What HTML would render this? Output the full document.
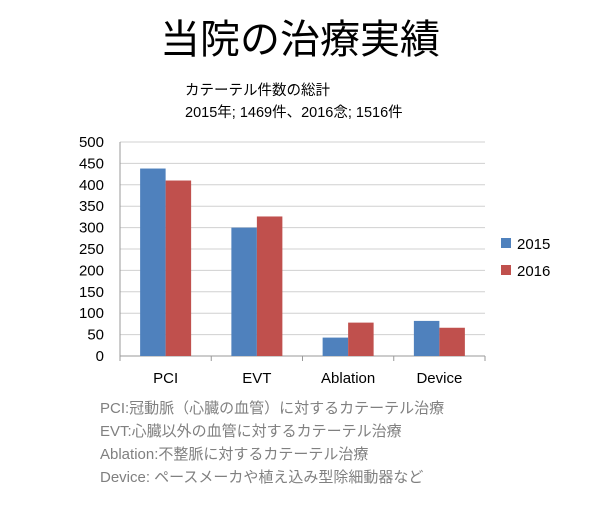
<!DOCTYPE html>
<html><head><meta charset="utf-8"><style>
body{margin:0;background:#fff;width:600px;height:500px;overflow:hidden;font-family:"Liberation Sans","Noto Sans CJK JP",sans-serif}
</style></head><body>
<svg width="600" height="500" font-family="Liberation Sans, Noto Sans CJK JP, sans-serif">
<text x="300" y="53" text-anchor="middle" font-size="40" fill="#000">当院の治療実績</text>
<text x="185" y="95" font-size="14.5" fill="#000">カテーテル件数の総計</text>
<text x="185" y="117" font-size="14.5" fill="#000">2015年; 1469件、2016念; 1516件</text>
<g id="grid"></g><g id="bars"></g><g id="axes"></g>
<rect x="501" y="238" width="10" height="10" fill="#4f81bd"/>
<text x="517" y="249" font-size="15">2015</text>
<rect x="501" y="265" width="10" height="10" fill="#c0504d"/>
<text x="517" y="276" font-size="15">2016</text>
<g font-size="15" fill="#808080">
<text x="100" y="413">PCI:冠動脈（心臓の血管）に対するカテーテル治療</text>
<text x="100" y="436">EVT:心臓以外の血管に対するカテーテル治療</text>
<text x="100" y="459">Ablation:不整脈に対するカテーテル治療</text>
<text x="100" y="482">Device: ペースメーカや植え込み型除細動器など</text>
</g>
</svg>
<script>
const categories=["PCI","EVT","Ablation","Device"];
const series2015=[438,300,43,82];
const series2016=[410,326,78,66];
const yTicks=[0,50,100,150,200,250,300,350,400,450,500];
const NS="http://www.w3.org/2000/svg";
const x0=120,x1=485,y0=356,yTop=142,yMax=500;
const y=v=>y0-(v/yMax)*(y0-yTop);
const bw=(x1-x0)/categories.length;
function mk(t,a,p){const e=document.createElementNS(NS,t);for(const k in a)e.setAttribute(k,a[k]);p.appendChild(e);return e;}
const grid=document.getElementById('grid'),bars=document.getElementById('bars'),axes=document.getElementById('axes');
yTicks.forEach(v=>{
 const l=mk('line',{x1:x0,x2:x1,y1:y(v),y2:y(v),stroke:v===0?'#999':'#d0d0d0','stroke-width':1},grid);
 
 
 const t=mk('text',{x:104,y:y(v)+5,'text-anchor':'end','font-size':15},axes);
 t.textContent=v;
 
 
});
mk('line',{x1:x0,x2:x0,y1:yTop,y2:y0+5,stroke:'#999'},axes);
categories.forEach((c,i)=>{
 const cx=x0+bw*(i+0.5),w=25.5;
 const b1=mk('rect',{x:cx-w,y:y(series2015[i]),width:w,height:y0-y(series2015[i]),fill:'#4f81bd'},bars);
 
 
 const b2=mk('rect',{x:cx,y:y(series2016[i]),width:w,height:y0-y(series2016[i]),fill:'#c0504d'},bars);
 
 
 const tk=mk('line',{x1:x0+bw*(i+1),x2:x0+bw*(i+1),y1:y0,y2:y0+5,stroke:'#999'},axes);
 
 
 const t=mk('text',{x:cx,y:383,'text-anchor':'middle','font-size':15},axes);
 t.textContent=c;
 
 
});
</script>
</body></html>
